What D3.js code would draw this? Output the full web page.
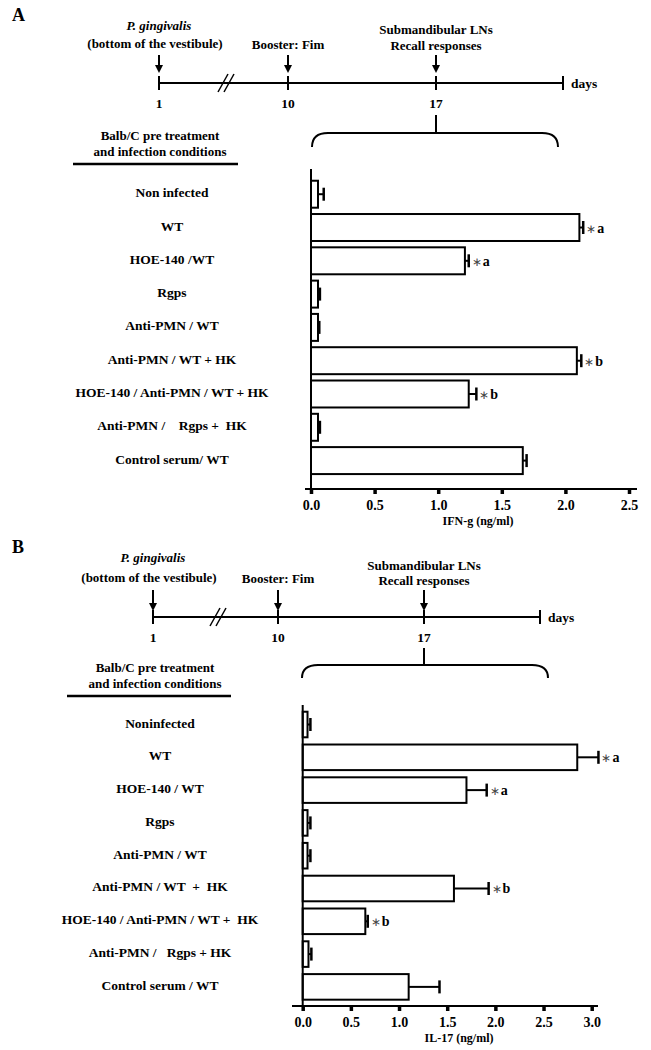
<!DOCTYPE html>
<html>
<head>
<meta charset="utf-8">
<title>Recall responses</title>
<script src="https://cdn.jsdelivr.net/npm/d3@7"></script>
<style>
  body { margin: 0; background: #fff; }
  svg text { font-family: "Liberation Serif", "Times New Roman", serif; font-weight: bold; fill: #000; white-space: pre; }
</style>
</head>
<body>
<div id="container"></div>
<script>
// panel A : IFN-g
const conditionsA = ['Non infected', 'WT', 'HOE-140 /WT', 'Rgps', 'Anti-PMN / WT', 'Anti-PMN / WT + HK',
  'HOE-140 / Anti-PMN / WT + HK', 'Anti-PMN /    Rgps +  HK', 'Control serum/ WT'];
const ifnMeans = [0.055, 2.11, 1.21, 0.055, 0.055, 2.09, 1.24, 0.055, 1.665];
const ifnErrors = [0.045, 0.03, 0.03, 0.015, 0.01, 0.035, 0.06, 0.015, 0.03];
const ifnSig = ['', 'a', 'a', '', '', 'b', 'b', '', ''];
const ifnTicks = [0, 0.5, 1, 1.5, 2, 2.5];

// panel B : IL-17
const conditionsB = ['Noninfected', 'WT', 'HOE-140 / WT', 'Rgps', 'Anti-PMN / WT', 'Anti-PMN / WT  +  HK',
  'HOE-140 / Anti-PMN / WT +  HK', 'Anti-PMN /   Rgps + HK', 'Control serum / WT'];
const il17Means = [0.05, 2.85, 1.70, 0.05, 0.05, 1.57, 0.65, 0.06, 1.10];
const il17Errors = [0.03, 0.22, 0.21, 0.03, 0.03, 0.36, 0.025, 0.03, 0.32];
const il17Sig = ['', 'a', 'a', '', '', 'b', 'b', '', ''];
const il17Ticks = [0, 0.5, 1, 1.5, 2, 2.5, 3];

// timeline
const days = [1, 10, 17, 23];
const dayLabels = ['1', '10', '17', ''];
const eventLines = [['P. gingivalis', '(bottom of the vestibule)'], ['Booster: Fim'], ['Submandibular LNs', 'Recall responses']];

const svg = d3.select('#container').append('svg')
  .attr('width', 651).attr('height', 1050);

function drawTimeline(g, L) {
  const t = d3.scaleLinear().domain(days).range(L.xs);
  g.append('line').attr('x1', t(days[0])).attr('x2', t(days[3]))
    .attr('y1', L.y).attr('y2', L.y).attr('stroke', '#000').attr('stroke-width', 2);
  days.forEach((d, i) => {
    g.append('line').attr('x1', t(d)).attr('x2', t(d))
      .attr('y1', L.y - 7).attr('y2', L.y + 7).attr('stroke', '#000').attr('stroke-width', 2);
    g.append('text').attr('x', t(d)).attr('y', L.y + 25).attr('text-anchor', 'middle')
      .style('font-size', '13.5px').text(dayLabels[i]);
  });
  g.append('text').attr('x', t(days[3]) + 8).attr('y', L.y + 5).style('font-size', '13.5px').text('days');
  // break marks
  [-3, 3].forEach(o => {
    g.append('line').attr('x1', L.breakX + o - 5).attr('y1', L.y + 9)
      .attr('x2', L.breakX + o + 5).attr('y2', L.y - 9).attr('stroke', '#000').attr('stroke-width', 1.5);
  });
  // arrows and event text
  eventLines.forEach((lines, i) => {
    const x = t(days[i]);
    g.append('line').attr('x1', x).attr('x2', x).attr('y1', L.arrowTop).attr('y2', L.arrowBot - 6)
      .attr('stroke', '#000').attr('stroke-width', 2);
    g.append('path').attr('d', `M${x - 4},${L.arrowBot - 8}L${x + 4},${L.arrowBot - 8}L${x},${L.arrowBot}Z`).attr('fill', '#000');
    lines.forEach((s, j) => {
      g.append('text').attr('x', x + (i === 0 && j === 1 ? -4 : 0)).attr('y', L.textY[i][j])
        .attr('text-anchor', 'middle').style('font-size', '13px')
        .style('font-style', i === 0 && j === 0 ? 'italic' : 'normal').text(s);
    });
  });
  // brace
  const b = L.brace, r = 16;
  g.append('line').attr('x1', t(17)).attr('x2', t(17)).attr('y1', b.top).attr('y2', b.mid)
    .attr('stroke', '#000').attr('stroke-width', 2);
  g.append('path')
    .attr('d', `M${b.x0},${b.bot}Q${b.x0},${b.mid} ${b.x0 + r},${b.mid}L${b.x1 - r},${b.mid}Q${b.x1},${b.mid} ${b.x1},${b.bot}`)
    .attr('fill', 'none').attr('stroke', '#000').attr('stroke-width', 2);
}

function drawBars(g, P) {
  const x = d3.scaleLinear().domain([0, P.ticks[P.ticks.length - 1]]).range(P.xr);
  const y = d3.scaleBand().domain(P.labels).range(P.yr).paddingInner(P.pad).paddingOuter(P.pad);

  // header on the left
  g.append('text').attr('x', P.headX).attr('y', P.headY).attr('text-anchor', 'middle')
    .style('font-size', '13px').text('Balb/C pre treatment');
  g.append('text').attr('x', P.headX).attr('y', P.headY + 16).attr('text-anchor', 'middle')
    .style('font-size', '13px').text('and infection conditions');
  g.append('line').attr('x1', P.rule[0]).attr('x2', P.rule[1]).attr('y1', P.headY + 24).attr('y2', P.headY + 24)
    .attr('stroke', '#000').attr('stroke-width', 2.5);

  g.selectAll('.cond').data(P.labels).join('text').attr('class', 'cond')
    .attr('x', P.labelX).attr('y', d => y(d) + y.bandwidth() / 2 + 3)
    .attr('text-anchor', 'middle').style('font-size', '13.5px').text(d => d);

  const rows = P.labels.map((l, i) => ({l, v: P.means[i], e: P.errors[i], s: P.sig[i]}));

  g.selectAll('.bar').data(rows).join('rect').attr('class', 'bar')
    .attr('x', x(0)).attr('y', d => y(d.l))
    .attr('width', d => x(d.v) - x(0)).attr('height', y.bandwidth())
    .attr('fill', '#fff').attr('stroke', '#000').attr('stroke-width', 2);

  const eb = g.selectAll('.err').data(rows).join('g').attr('class', 'err');
  eb.append('line').attr('x1', d => x(d.v)).attr('x2', d => x(d.v + d.e))
    .attr('y1', d => y(d.l) + y.bandwidth() / 2).attr('y2', d => y(d.l) + y.bandwidth() / 2)
    .attr('stroke', '#000').attr('stroke-width', 2);
  eb.append('line').attr('x1', d => x(d.v + d.e)).attr('x2', d => x(d.v + d.e))
    .attr('y1', d => y(d.l) + y.bandwidth() / 2 - 6.5).attr('y2', d => y(d.l) + y.bandwidth() / 2 + 6.5)
    .attr('stroke', '#000').attr('stroke-width', 2.5);

  const sig = g.selectAll('.sig').data(rows.filter(d => d.s)).join('text').attr('class', 'sig')
    .attr('x', d => x(d.v + d.e) + 3).attr('y', d => y(d.l) + y.bandwidth() / 2 + 5)
    .style('font-size', '14px');
  sig.append('tspan').style('font-weight', 'normal').style('fill', '#444').style('font-size', '12px').text('\u2217');
  sig.append('tspan').attr('dx', 1).text(d => d.s);

  // axes
  g.append('line').attr('x1', x(0)).attr('x2', x(0)).attr('y1', P.yTop).attr('y2', P.axisY)
    .attr('stroke', '#000').attr('stroke-width', 2);
  g.append('line').attr('x1', P.axisLine[0]).attr('x2', P.axisLine[1]).attr('y1', P.axisY).attr('y2', P.axisY)
    .attr('stroke', '#000').attr('stroke-width', 2);
  const ax = g.append('g').attr('transform', `translate(0,${P.axisY})`)
    .call(d3.axisBottom(x).tickValues(P.ticks).tickFormat(d3.format('.1f')).tickSize(5).tickPadding(6));
  ax.select('.domain').remove();
  ax.selectAll('.tick line').attr('stroke-width', 3.5);
  ax.selectAll('.tick text').style('font-size', '14px')
    .style('font-family', '"Liberation Serif", serif').style('font-weight', 'bold');
  g.append('text').attr('x', P.titleX).attr('y', P.axisY + 36).attr('text-anchor', 'middle')
    .style('font-size', '12px').text(P.title);
}

function panelLetter(g, s, y) {
  g.append('text').attr('x', 12).attr('y', y).style('font-size', '18px').text(s);
}

const gA = svg.append('g');
panelLetter(gA, 'A', 21);
drawTimeline(gA, {
  y: 83, xs: [159, 288, 436, 563], breakX: 226, arrowTop: 55, arrowBot: 73,
  textY: [[30, 48], [49], [34, 50]],
  brace: {top: 115, mid: 133, bot: 147, x0: 312, x1: 558}
});
drawBars(gA, {
  labels: conditionsA, means: ifnMeans, errors: ifnErrors, sig: ifnSig, ticks: ifnTicks,
  xr: [311, 629], yr: [174.4, 480.4], pad: 0.19, yTop: 169, axisY: 489, axisLine: [305, 637],
  headX: 160, headY: 140, rule: [73, 238], labelX: 172, titleX: 478, title: 'IFN-g (ng/ml)'
});

const gB = svg.append('g');
panelLetter(gB, 'B', 553);
drawTimeline(gB, {
  y: 617, xs: [153, 278, 424, 540], breakX: 218, arrowTop: 590, arrowBot: 611,
  textY: [[562, 582], [583], [570, 585]],
  brace: {top: 648, mid: 665, bot: 678, x0: 302, x1: 548}
});
drawBars(gB, {
  labels: conditionsB, means: il17Means, errors: il17Errors, sig: il17Sig, ticks: il17Ticks,
  xr: [302.7, 591.7], yr: [704.5, 1006.9], pad: 0.22, yTop: 705, axisY: 1006, axisLine: [292, 598],
  headX: 155, headY: 672, rule: [67, 231], labelX: 160, titleX: 459, title: 'IL-17 (ng/ml)'
});
</script>
</body>
</html>
